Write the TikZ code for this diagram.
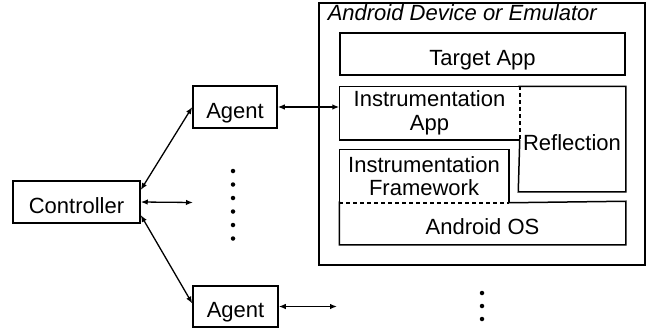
\documentclass[tikz,border=0pt]{standalone}
\usepackage{fontspec}
\setmainfont{Liberation Sans}
\usetikzlibrary{arrows.meta}
\begin{document}
\begin{tikzpicture}[x=1pt,y=-1pt,line width=1.5pt,
  txt/.style={inner sep=0pt,font=\fontsize{22}{23.5}\selectfont,align=center},
  one/.style={text height=22pt,text depth=0pt},
  box/.style={txt,draw,rectangle},
  link/.style={line width=1.3pt,{Latex[length=7pt,width=5.5pt]}-{Latex[length=7pt,width=5.5pt]}},
  dot/.style={circle,fill,inner sep=0pt,minimum size=4.5pt},
  dsh/.style={dash pattern=on 4pt off 3pt}]
\useasboundingbox (0,0) rectangle (652,329);
% left side
\node[box,one,minimum width=127pt,minimum height=42pt] (controller) at (76.5,202) {Controller};
\node[box,one,minimum width=84pt,minimum height=42pt] (agent1) at (235,107) {Agent};
\node[box,one,minimum width=85pt,minimum height=41pt] (agent2) at (235.5,306.5) {Agent};
% device
\node[draw,rectangle,inner sep=0pt,minimum width=326pt,minimum height=262pt] (device) at (482,134) {};
\node[txt,anchor=base west,font=\fontsize{22}{23.5}\selectfont\itshape] (title) at (327,21) {Android Device or Emulator};
\node[box,one,minimum width=285pt,minimum height=42pt] (target) at (482.5,54) {Target App};
\node[txt,minimum width=179pt,minimum height=52pt] (instapp) at (429.5,113) {Instrumentation\\App};
\node[txt,one,minimum width=106pt,minimum height=104pt] (refl) at (572,139) {Reflection};
\node[txt,minimum width=168pt,minimum height=52pt] (frame) at (424,176) {Instrumentation\\Framework};
\node[txt,one,minimum width=285pt,minimum height=42pt] (aos) at (482.5,223) {Android OS};
% partially dashed borders
\draw (instapp.north east) -- (instapp.north west) -- (instapp.south west) -- (instapp.south east);
\draw[dsh] (instapp.north east) -- (instapp.south east);
\draw (instapp.south east) -- (refl.south west) -- (refl.south east) -- (refl.north east) -- (refl.north west);
\draw (frame.south west) -- (frame.north west) -- (frame.north east) -- (frame.south east);
\draw[dsh] (frame.south west) -- (frame.south east);
\draw (frame.south east) -- (aos.north east) -- (aos.south east) -- (aos.south west) -- (aos.north west);
% connectors
\coordinate (midend) at (193,202.5);
\coordinate (a2end) at (337,306.5);
\draw[link] ([yshift=12pt]controller.east) -- (agent1.west);
\draw[link] (controller.east) -- (midend);
\draw[link] ([yshift=-13pt]controller.east) -- ([yshift=3pt]agent2.west);
\draw[link] (agent1.east) -- (agent1.east -| instapp.west);
\draw[link] (agent2.east) -- (a2end);
% dots
\foreach \y [count=\i] in {171,184.5,198,211.5,225,238.5}
  \node[dot] (vd\i) at (233,\y) {};
\foreach \y [count=\i] in {293,306,319}
  \node[dot] (bd\i) at (482,\y) {};
\end{tikzpicture}
\end{document}
